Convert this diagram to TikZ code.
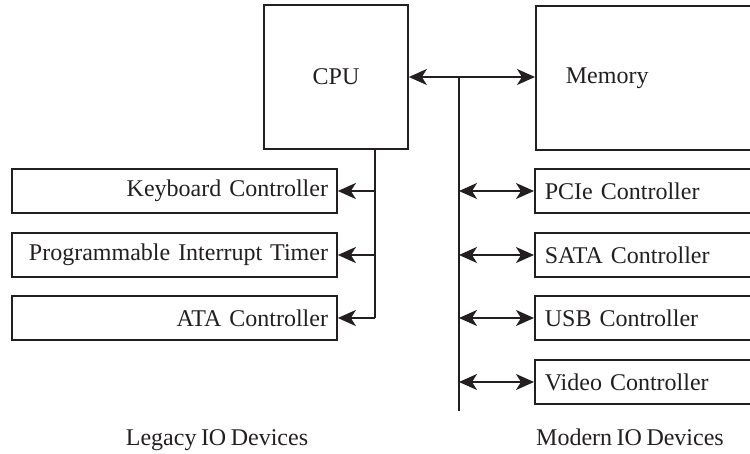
\documentclass[tikz,border=0pt]{standalone}
\usepackage{fontspec}
\setmainfont[WordSpace={0.75}]{Liberation Serif}
\usetikzlibrary{arrows.meta}
\definecolor{ink}{HTML}{231F20}
\begin{document}
\begin{tikzpicture}[x=1pt,y=-1pt,
  txt/.style={text=ink, font=\fontsize{24}{29}\selectfont},
  box/.style={draw=ink, line width=1.7pt, rectangle, inner ysep=0pt, txt},
  lbox/.style={box, minimum width=325pt, minimum height=44pt, text width=307pt, inner xsep=9pt, align=right},
  rbox/.style={box, anchor=west, minimum height=44pt, text width=230pt, inner xsep=10pt, align=left},
  conn/.style={draw=ink, line width=1.7pt},
  tipr/.style={conn, -{Stealth[length=18pt,width=16pt,inset=5pt]}},
  dbl/.style={conn, {Stealth[length=18pt,width=16pt,inset=5pt]}-{Stealth[length=18pt,width=16pt,inset=5pt]}}
]
\useasboundingbox (0,0) rectangle (750,453);
\clip (0,0) rectangle (750,453);

\node[box, minimum width=144pt, minimum height=144pt] (cpu) at (336,77) {CPU};
\node[box, anchor=north west, minimum height=144pt, text width=190pt, inner xsep=30pt, align=left] (mem) at (535,5) {Memory};

\node[lbox] (kbd) at (174.5,191) {Keyboard Controller};
\node[lbox] (pit) at (174.5,255) {Programmable Interrupt Timer};
\node[lbox] (ata) at (174.5,318) {ATA Controller};

\node[rbox] (pcie) at (534,191) {PCIe Controller};
\node[rbox] (sata) at (534,255) {SATA Controller};
\node[rbox] (usb) at (534,318) {USB Controller};
\node[rbox] (video) at (534,382) {Video Controller};

\node[txt, anchor=base] (legacy) at (217,445) {Legacy IO Devices};
\node[txt, anchor=base] (modern) at (630,445) {Modern IO Devices};

% system bus
\coordinate (bt) at (459,77);
\coordinate (bb) at (459,411);
\draw[dbl] (cpu.east) -- (mem.west |- cpu.east);
\draw[conn] (bt) -- (bb);
\foreach \n in {pcie,sata,usb,video}
  \draw[dbl] (bt |- \n.west) -- (\n.west);

% legacy bus
\coordinate (cd) at ([xshift=39pt]cpu.south);
\draw[conn] (cd) -- (cd |- ata.east);
\foreach \n in {kbd,pit,ata}
  \draw[tipr] (cd |- \n.east) -- (\n.east);
\end{tikzpicture}
\end{document}
